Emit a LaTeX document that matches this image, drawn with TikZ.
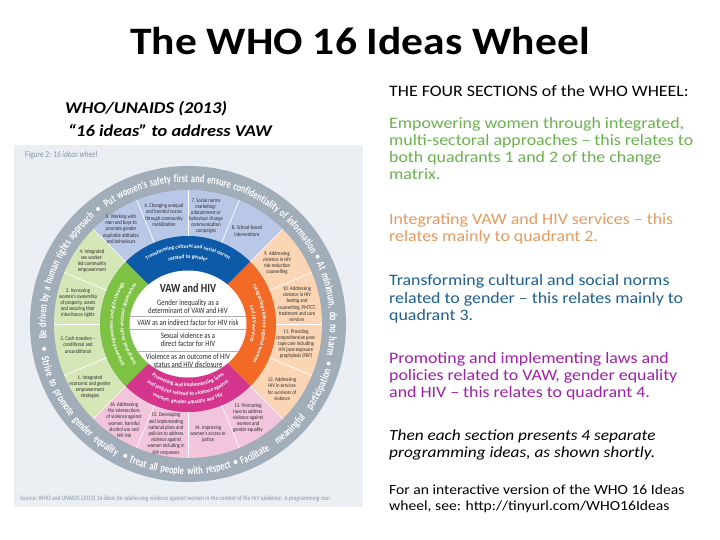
\documentclass[tikz,border=0pt]{standalone}
\usepackage{fontspec}
\setmainfont{Carlito}
\newfontfamily\slidefont[FakeStretch=1.12]{Carlito}
\newfontfamily\wheelfont[FakeStretch=0.82]{Carlito}
\newfontfamily\ringfamily[FakeStretch=0.74]{Carlito}
\usetikzlibrary{decorations.text}
\definecolor{panel}{HTML}{EBEEF2}
\definecolor{ringgray}{HTML}{A2ADBA}
\definecolor{lgreen}{HTML}{D5E6B7}
\definecolor{dgreen}{HTML}{7DC243}
\definecolor{lblue}{HTML}{BAC8E8}
\definecolor{dblue}{HTML}{0D5BA8}
\definecolor{lorange}{HTML}{FCD6B4}
\definecolor{dorange}{HTML}{F26A26}
\definecolor{lpink}{HTML}{F2C5DD}
\definecolor{dmag}{HTML}{D6358D}
\definecolor{sepgray}{HTML}{B0B0B0}
\definecolor{capgray}{HTML}{8396AA}
\definecolor{tgreen}{HTML}{69B34C}
\definecolor{torange}{HTML}{E59B5F}
\definecolor{tblue}{HTML}{1D6192}
\definecolor{tpurple}{HTML}{A020A8}
\definecolor{ideatxt}{HTML}{2A2A2A}
\newcommand\ringfnt{\ringfamily\bfseries\fontsize{11.3}{12}\selectfont}
\newcommand\secfnt{\normalfont\bfseries\fontsize{5.4}{6}\selectfont}
\newcommand\annsec[5]{\fill[#1] (#2:#4bp) arc[start angle=#2, end angle=#3, radius=#4bp] -- (#3:#5bp) arc[start angle=#3, end angle=#2, radius=#5bp] -- cycle;}
\begin{document}
\begin{tikzpicture}[x=1bp,y=-1bp,
  rline/.style={anchor=base west, inner sep=0, font=\slidefont\fontsize{16}{17}\selectfont},
  idea/.style={align=center, inner sep=0, text=ideatxt, font=\wheelfont\fontsize{5.7}{6.2}\selectfont},
  ctr/.style={align=center, inner sep=0, text=ideatxt, font=\wheelfont\fontsize{8.3}{8}\selectfont},
  ringtxt/.style={decorate, decoration={text along path, text={|\ringfnt|#1}, text align={fit to path stretching spaces}, text color=white}},
  sectxt/.style={decorate, decoration={text along path, text={|\secfnt|#1}, text align=center, text color=white}}]
\useasboundingbox (0,0) rectangle (720,540);
\fill[white] (0,0) rectangle (720,540);
% title and headings
\node[anchor=base, inner sep=0, font=\slidefont\bfseries\fontsize{39}{40}\selectfont] (title) at (360,55) {The WHO 16 Ideas Wheel};
\node[anchor=base west, inner sep=0, font=\slidefont\bfseries\itshape\fontsize{16.5}{18}\selectfont] (src1) at (65,114) {WHO/UNAIDS (2013)};
\node[anchor=base west, inner sep=0, font=\slidefont\bfseries\itshape\fontsize{16.5}{18}\selectfont] (src2) at (68,137) {“16 ideas” to address VAW};
% right column
\node[rline] (h) at (389,97) {THE FOUR SECTIONS of the WHO WHEEL:};
\node[rline, text=tgreen] (g1) at (389,129) {Empowering women through integrated,};
\node[rline, text=tgreen] (g2) at (389,146) {multi-sectoral approaches – this relates to};
\node[rline, text=tgreen] (g3) at (389,163) {both quadrants 1 and 2 of the change};
\node[rline, text=tgreen] (g4) at (389,180) {matrix.};
\node[rline, text=torange] (o1) at (389,225) {Integrating VAW and HIV services – this};
\node[rline, text=torange] (o2) at (389,242) {relates mainly to quadrant 2.};
\node[rline, text=tblue] (b1) at (389,286) {Transforming cultural and social norms};
\node[rline, text=tblue] (b2) at (389,303) {related to gender – this relates mainly to};
\node[rline, text=tblue] (b3) at (389,320) {quadrant 3.};
\node[rline, text=tpurple] (p1) at (389,363) {Promoting and implementing laws and};
\node[rline, text=tpurple] (p2) at (389,380) {policies related to VAW, gender equality};
\node[rline, text=tpurple] (p3) at (389,397) {and HIV – this relates to quadrant 4.};
\node[rline, font=\slidefont\itshape\fontsize{15.5}{17}\selectfont] (t1) at (389,440) {Then each section presents 4 separate};
\node[rline, font=\slidefont\itshape\fontsize{15.5}{17}\selectfont] (t2) at (389,457) {programming ideas, as shown shortly.};
\node[rline, font=\slidefont\fontsize{14}{16}\selectfont] (f1) at (389,494) {For an interactive version of the WHO 16 Ideas};
\node[rline, font=\slidefont\fontsize{14}{16}\selectfont] (f2) at (389,510) {wheel, see: http://tinyurl.com/WHO16Ideas};
% panel
\fill[panel] (14,145) rectangle (363,507);
\node[anchor=base west, inner sep=0, text=capgray, font=\wheelfont\fontsize{9}{10}\selectfont] (figcap) at (25,158) {Figure 2: \textit{16 ideas wheel}};
\node[anchor=base west, inner sep=0, text=capgray, font=\wheelfont\fontsize{6.8}{8}\selectfont] (source) at (20,500) {Source: WHO and UNAIDS (2013) \textit{16 ideas for addressing violence against women in the context of the HIV epidemic: A programming tool}};
% wheel
\begin{scope}[shift={(188,324)}]
  \fill[ringgray] (0,0) circle[radius=158bp];
  \annsec{lgreen}{135}{225}{88}{134}
  \annsec{lblue}{45}{135}{88}{134}
  \annsec{lorange}{-45}{45}{88}{134}
  \annsec{lpink}{225}{315}{88}{134}
  \annsec{dgreen}{135}{225}{50}{88}
  \annsec{dblue}{45}{135}{50}{88}
  \annsec{dorange}{-45}{45}{50}{88}
  \annsec{dmag}{225}{315}{50}{88}
  \fill[white] (0,0) ellipse[x radius=58.5bp, y radius=53.5bp];
  \foreach \a in {0,22.5,...,337.5} \draw[white, line width=0.7bp] (\a:88bp) -- (\a:134bp);
  \begin{scope}
    \clip (0,0) ellipse[x radius=58.5bp, y radius=53.5bp];
    \foreach \yy in {8,-5,-27,-43} \draw[sepgray, line width=0.6bp] (-62bp,\yy bp) -- (62bp,\yy bp);
  \end{scope}
  % outer ring texts
  \path[ringtxt={Be driven by a human rights approach}] (186:142bp) arc[start angle=186, end angle=131, radius=142bp];
  \path[ringtxt={Put women's safety first and ensure confidentiality of information}] (125:142bp) arc[start angle=125, end angle=29.6, radius=142bp];
  \path[ringtxt={At minimum, do no harm}] (25:142bp) arc[start angle=25, end angle=-12.5, radius=142bp];
  \path[ringtxt={Strive to promote gender equality}] (193:150.5bp) arc[start angle=193, end angle=241.5, radius=150.5bp];
  \path[ringtxt={Treat all people with respect}] (246.6:150.5bp) arc[start angle=246.6, end angle=286.8, radius=150.5bp];
  \path[ringtxt={Facilitate meaningful participation}] (291:150.5bp) arc[start angle=291, end angle=342, radius=150.5bp];
  \foreach \a in {128,27.5,-15.7,189.8,244.6,289} \fill[white] (\a:146bp) circle[radius=2bp];
  % section ring texts
  \path[sectxt={Transforming cultural and social norms}] (135:76bp) arc[start angle=135, end angle=45, radius=76bp];
  \path[sectxt={related to gender}] (135:65.5bp) arc[start angle=135, end angle=45, radius=65.5bp];
  \path[sectxt={Integrating violence against women}] (45:75bp) arc[start angle=45, end angle=-45, radius=75bp];
  \path[sectxt={and HIV services}] (45:64.5bp) arc[start angle=45, end angle=-45, radius=64.5bp];
  \path[sectxt={Empowering women and girls through}] (225:75bp) arc[start angle=225, end angle=135, radius=75bp];
  \path[sectxt={integrated, multi-sectoral approaches}] (225:64.5bp) arc[start angle=225, end angle=135, radius=64.5bp];
  \path[sectxt={Promoting and implementing laws}] (222:63bp) arc[start angle=222, end angle=318, radius=63bp];
  \path[sectxt={and policies related to violence against}] (222:71.5bp) arc[start angle=222, end angle=318, radius=71.5bp];
  \path[sectxt={women, gender equality and HIV}] (222:80bp) arc[start angle=222, end angle=318, radius=80bp];
\end{scope}
% centre texts
\node[ctr, font=\wheelfont\bfseries\fontsize{12.5}{13}\selectfont] (vaw) at (188,288) {VAW and HIV};
\node[ctr] (c1) at (188,306.5) {Gender inequality as a\\determinant of VAW and HIV};
\node[ctr] (c2) at (188,322.5) {VAW as an indirect factor for HIV risk};
\node[ctr] (c3) at (188,340) {Sexual violence as a\\direct factor for HIV};
\node[ctr] (c4) at (188,360.5) {Violence as an outcome of HIV\\status and HIV disclosure};
% idea texts
\node[idea] (i1) at (90,387) {1. Integrated\\economic and gender\\empowerment\\strategies};
\node[idea] (i2) at (78,345) {2. Cash transfers –\\conditional and\\unconditional};
\node[idea] (i3) at (78,303) {3. Increasing\\women's ownership\\of property, assets\\and securing their\\inheritance rights};
\node[idea] (i4) at (92,261) {4. Integrated\\sex worker-\\led community\\empowerment};
\node[idea] (i5) at (121,229) {5. Working with\\men and boys to\\promote gender\\equitable attitudes\\and behaviours};
\node[idea] (i6) at (164,215) {6. Changing unequal\\and harmful norms\\through community\\mobilization};
\node[idea] (i7) at (206,216) {7. Social norms\\marketing/\\edutainment or\\behaviour change\\communication\\campaigns};
\node[idea] (i8) at (247,231) {8. School-based\\interventions};
\node[idea] (i9) at (277,263) {9. Addressing\\violence in HIV\\risk-reduction\\counselling};
\node[idea] (i10) at (297,304) {10. Addressing\\violence in HIV\\testing and\\counselling, PMTCT,\\treatment and care\\services};
\node[idea] (i11) at (296,344) {11. Providing\\comprehensive post-\\rape care including\\HIV post-exposure\\prophylaxis (PEP)};
\node[idea] (i12) at (282,389) {12. Addressing\\HIV in services\\for survivors of\\violence};
\node[idea] (i13) at (248,418) {13. Promoting\\laws to address\\violence against\\women and\\gender equality};
\node[idea] (i14) at (208,434) {14. Improving\\women's access to\\justice};
\node[idea] (i15) at (166,434) {15. Developing\\and implementing\\national plans and\\policies to address\\violence against\\women including in\\HIV responses};
\node[idea] (i16) at (124,420) {16. Addressing\\the intersections\\of violence against\\women, harmful\\alcohol use and\\HIV risk};
\end{tikzpicture}
\end{document}
